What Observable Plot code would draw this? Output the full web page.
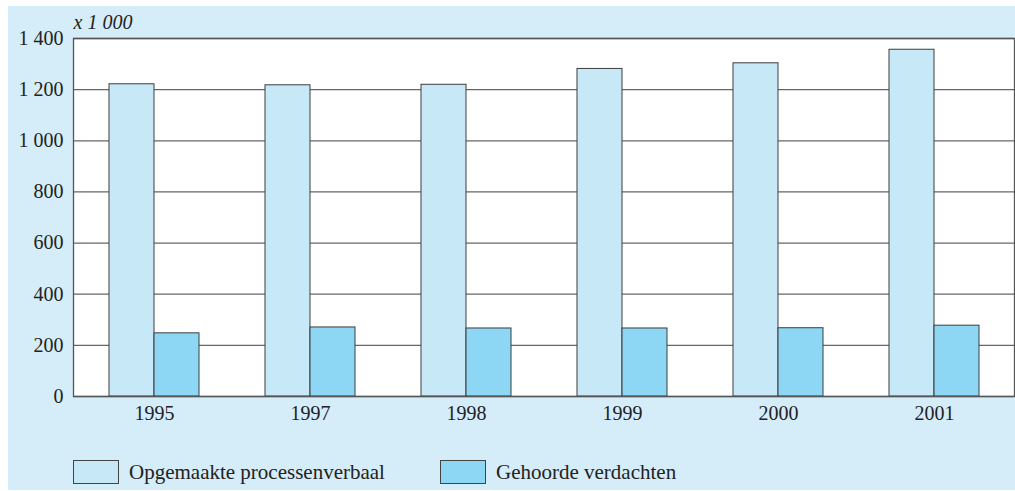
<!DOCTYPE html>
<html>
<head>
<meta charset="utf-8">
<script src="https://cdn.jsdelivr.net/npm/d3@7"></script>
<script src="https://cdn.jsdelivr.net/npm/@observablehq/plot@0.6"></script>
<style>
  html, body { margin: 0; padding: 0; background: #ffffff; }
  #page { position: relative; width: 1015px; height: 491px; overflow: hidden; font-family: "Liberation Serif", "DejaVu Serif", serif; color: #222; }
  #bg { position: absolute; left: 8px; top: 6px; width: 1007px; height: 484px; background: #d5ecf9; }
  #chart { position: absolute; left: 0; top: 0; }
  #legend { position: absolute; left: 0; top: 460px; width: 1015px; height: 24px; }
  .item { position: absolute; top: 0; height: 24px; display: flex; align-items: center; font-size: 21px; white-space: nowrap; }
  .sw { width: 46px; height: 24px; border: 1px solid #444; box-sizing: border-box; margin-right: 10px; flex: none; }
</style>
</head>
<body>
<div id="page">
  <div id="bg"></div>
  <div id="chart"></div>
  <div id="legend"></div>
</div>
<script>
const years = ["1995", "1997", "1998", "1999", "2000", "2001"];
const seriesNames = ["Opgemaakte processenverbaal", "Gehoorde verdachten"];
const processenverbaal = [1221, 1217, 1219, 1281, 1303, 1356];
const verdachten = [247, 270, 266, 266, 267, 277];
const yTicks = [0, 200, 400, 600, 800, 1000, 1200, 1400];
const unitLabel = "x 1 000";
const colors = ["#c7e8f7", "#8ed7f4"];

const rows = [];
years.forEach((y, i) => {
  rows.push({year: y, series: seriesNames[0], value: processenverbaal[i]});
  rows.push({year: y, series: seriesNames[1], value: verdachten[i]});
});

const fmt = d3.formatLocale({thousands: " ", grouping: [3], decimal: ",", currency: ["", ""]}).format(",");

const W = 1015, ML = 73, MR = 1;
const pInner = 0.426, pOuter = 0.213;
const step = (W - ML - MR) / (years.length - pInner + 2 * pOuter);
const half = step * (1 - pInner) / 2;

const chart = Plot.plot({
  width: W,
  height: 440,
  marginLeft: ML,
  marginRight: MR,
  marginTop: 38,
  marginBottom: 44,
  style: {background: "transparent", fontFamily: "'Liberation Serif', serif", fontSize: "20px", color: "#222", overflow: "visible"},
  x: {domain: years, paddingInner: pInner, paddingOuter: pOuter, label: null, tickSize: 0, tickPadding: 9},
  y: {domain: [0, 1400], ticks: yTicks, tickFormat: fmt, label: null, tickSize: 0, tickPadding: 10},
  marks: [
    Plot.frame({fill: "#ffffff", stroke: "none"}),
    Plot.ruleY(yTicks, {stroke: "#666", strokeWidth: 1.3}),
    Plot.barY(rows.filter(d => d.series === seriesNames[0]), {x: "year", y: "value", fill: colors[0], stroke: "#3c3c3c", strokeWidth: 1, insetRight: half}),
    Plot.barY(rows.filter(d => d.series === seriesNames[1]), {x: "year", y: "value", fill: colors[1], stroke: "#3c3c3c", strokeWidth: 1, insetLeft: half}),
    Plot.frame({stroke: "#555", strokeWidth: 1.3}),
    Plot.text([unitLabel], {frameAnchor: "top-left", text: d => d, textAnchor: "start", lineAnchor: "bottom", dy: -10, dx: 0, fontStyle: "italic", fontSize: 20, fill: "#222"})
  ]
});
document.getElementById("chart").appendChild(chart);

const legend = document.getElementById("legend");
const legendX = [73, 440];
seriesNames.forEach((name, i) => {
  const item = document.createElement("div");
  item.className = "item";
  item.style.left = legendX[i] + "px";
  const sw = document.createElement("span");
  sw.className = "sw";
  sw.style.background = colors[i];
  const t = document.createElement("span");
  t.textContent = name;
  item.appendChild(sw);
  item.appendChild(t);
  legend.appendChild(item);
});
</script>
</body>
</html>
